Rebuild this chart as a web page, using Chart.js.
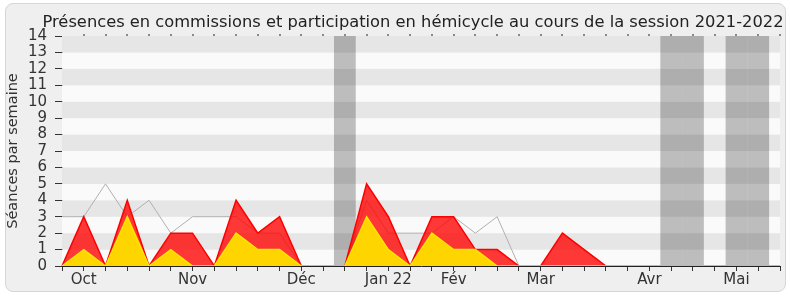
<!DOCTYPE html>
<html lang="fr">
<head>
  <meta charset="UTF-8">
  <title>Présences en commissions et participation en hémicycle</title>
  <script src="https://cdn.jsdelivr.net/npm/chart.js@4"></script>
  <style>
    * { box-sizing: border-box; margin: 0; padding: 0; }
    body { background: #ffffff; width: 790px; height: 300px; overflow: hidden; }
    .frame { position: absolute; left: 5px; top: 3px; width: 781px; height: 289px; border: 1px solid #d6d6d6; border-radius: 8px; background: #efefef; }
    canvas { position: absolute; left: 0; top: 0; }
  </style>
</head>
<body>
<div class="frame"></div>
<canvas id="chart" width="790" height="300"></canvas>

<script>
// ── Data (one entry per week, session 2021-2022) ─────────────────────────────
const titleText = 'Présences en commissions et participation en hémicycle au cours de la session 2021-2022';
const weekLabels = ['', 'Oct', '', '', '', '', 'Nov', '', '', '', '', 'Déc', '', '', '', 'Jan 22', '', '',
  'Fév', '', '', '', 'Mar', '', '', '', '', 'Avr', '', '', '', 'Mai', '', ''];
const presences = [0, 3, 0, 4, 0, 2, 2, 0, 4, 2, 3, 0, 0, 0, 5, 3, 0, 3, 3, 1, 1, 0, 0, 2, 1, 0, 0, 0, 0, 0, 0, 0, 0, 0];
const participations = [0, 1, 0, 3, 0, 1, 0, 0, 2, 1, 1, 0, 0, 0, 3, 1, 0, 2, 1, 1, 0, 0, 0, 0, 0, 0, 0, 0, 0, 0, 0, 0, 0, 0];
const mediane = [3, 3, 5, 3, 4, 2, 3, 3, 3, 2, 2, 0, 0, 0, 4, 2, 2, 2, 3, 2, 3, 0, 0, 0, 0, 0, 0, 0, 0, 0, 0, 0, 0, 0];
const vacances = [13, 28, 29, 31, 32];
const yMax = 14;

// ── Background stripes, holiday bands, top ticks and title ──────────────────
const backdrop = {
  id: 'backdrop',
  beforeDatasetsDraw(chart) {
    const { ctx, chartArea: a, scales: { x, y } } = chart;
    ctx.save();
    for (let v = 0; v < yMax; v++) {
      ctx.fillStyle = v % 2 ? '#e6e6e6' : '#fafafa';
      const top = y.getPixelForValue(v + 1), bot = y.getPixelForValue(v);
      ctx.fillRect(a.left, top, a.right - a.left, bot - top);
    }
    ctx.fillStyle = 'rgba(0,0,0,0.245)';
    for (const w of vacances) {
      const l = Math.max(x.getPixelForValue(w - 0.5), a.left);
      const r = Math.min(x.getPixelForValue(w + 0.5), a.right);
      ctx.fillRect(l, a.top, r - l, a.bottom - a.top);
    }
    ctx.fillStyle = '#222';
    for (let i = 1; i < weekLabels.length; i++) {
      ctx.fillRect(Math.round(x.getPixelForValue(i)) - 0.5, a.top - 2, 1, 2);
    }
    // chart title, centred like the original
    ctx.fillStyle = '#222';
    ctx.font = "16.3px 'DejaVu Sans', sans-serif";
    ctx.textAlign = 'center';
    ctx.textBaseline = 'alphabetic';
    ctx.fillText(titleText, 413, 27);
    ctx.restore();
  }
};

Chart.defaults.font.family = "'DejaVu Sans', sans-serif";
Chart.defaults.color = '#333';

new Chart(document.getElementById('chart'), {
  type: 'line',
  data: {
    labels: weekLabels,
    datasets: [
      { label: 'Participations', data: participations, borderColor: '#ffe600', backgroundColor: '#ffd500', borderWidth: 1.5, fill: 'origin', pointRadius: 0, tension: 0, order: 1 },
      { label: 'Présences', data: presences, borderColor: '#ff0000', backgroundColor: 'rgba(255,0,0,0.78)', borderWidth: 1.5, fill: 'origin', pointRadius: 0, tension: 0, order: 2 },
      { label: 'Médiane', data: mediane, borderColor: '#b0b0b0', borderWidth: 1, fill: false, pointRadius: 0, tension: 0, order: 3 }
    ]
  },
  options: {
    responsive: false,
    animation: false,
    layout: { padding: { left: 0, right: 10, top: 36, bottom: 0 } },
    plugins: {
      legend: { display: false },
      tooltip: { enabled: false },
      title: { display: false }
    },
    scales: {
      x: {
        offset: false,
        grid: { display: true, drawOnChartArea: false, tickLength: 5, color: '#333' },
        border: { color: '#222', width: 1 },
        ticks: { autoSkip: false, maxRotation: 0, font: { size: 15 }, color: '#333', padding: 0 },
        afterFit(s) { s.height = 34; }
      },
      y: {
        min: 0, max: yMax,
        grid: { display: true, drawOnChartArea: false, tickLength: 7, color: '#333' },
        border: { color: '#222', width: 1 },
        ticks: { stepSize: 1, autoSkip: false, font: { size: 15 }, color: '#333', padding: 8 },
        title: { display: true, text: 'Séances par semaine', font: { size: 14.5 }, color: '#333', padding: { top: 5, bottom: 0 } },
        afterFit(s) { s.width = 62; }
      }
    }
  },
  plugins: [backdrop]
});
</script>
</body>
</html>
